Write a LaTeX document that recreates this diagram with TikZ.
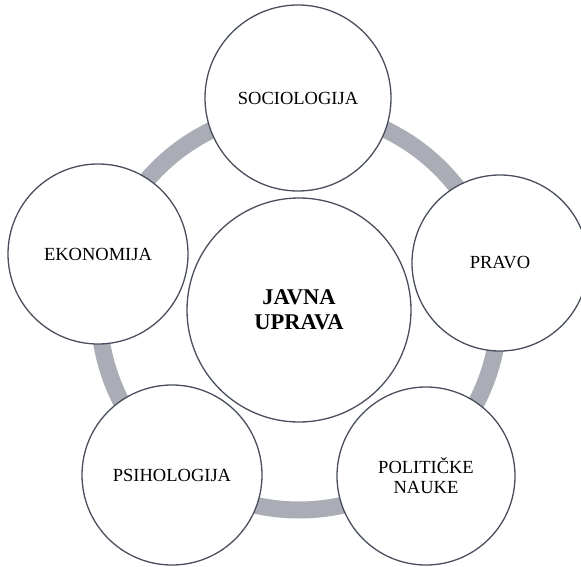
\documentclass[tikz,border=0pt]{standalone}
\usepackage{fontspec}
\setmainfont{Liberation Serif}
\usepackage{xcolor}
\usepackage{tikz}

\definecolor{ringgray}{RGB}{170,173,181}
\definecolor{edgegray}{RGB}{72,78,92}

\begin{document}
\begin{tikzpicture}[x=1pt,y=-1pt]
\tikzstyle{field} = [circle, draw=edgegray, line width=1.3pt, fill=white, minimum size=180pt, inner sep=0pt, align=center, font=\fontsize{18.5}{20}\selectfont]
\tikzstyle{core} = [field, minimum size=224pt, font=\fontsize{22.5}{25}\selectfont\bfseries]
\tikzstyle{ring} = [line width=17pt, draw=ringgray]

\useasboundingbox (0,0) rectangle (581,567);

% ring behind the circles
\coordinate (mid) at (299,310);
\draw [ring] (mid) circle (200pt);

\node (socio) [field, minimum size=186pt] at (298,98) {SOCIOLOGIJA};
\node (pravo) [field, minimum size=176pt] at (500,263) {PRAVO};
\node (polit) [field, minimum size=178pt] at (426,476) {POLITIČKE\\NAUKE};
\node (psiho) [field] at (172,475) {PSIHOLOGIJA};
\node (ekon) [field] at (98,254) {EKONOMIJA};
\node (javna) [core] at (mid) {JAVNA\\UPRAVA};
\end{tikzpicture}
\end{document}
